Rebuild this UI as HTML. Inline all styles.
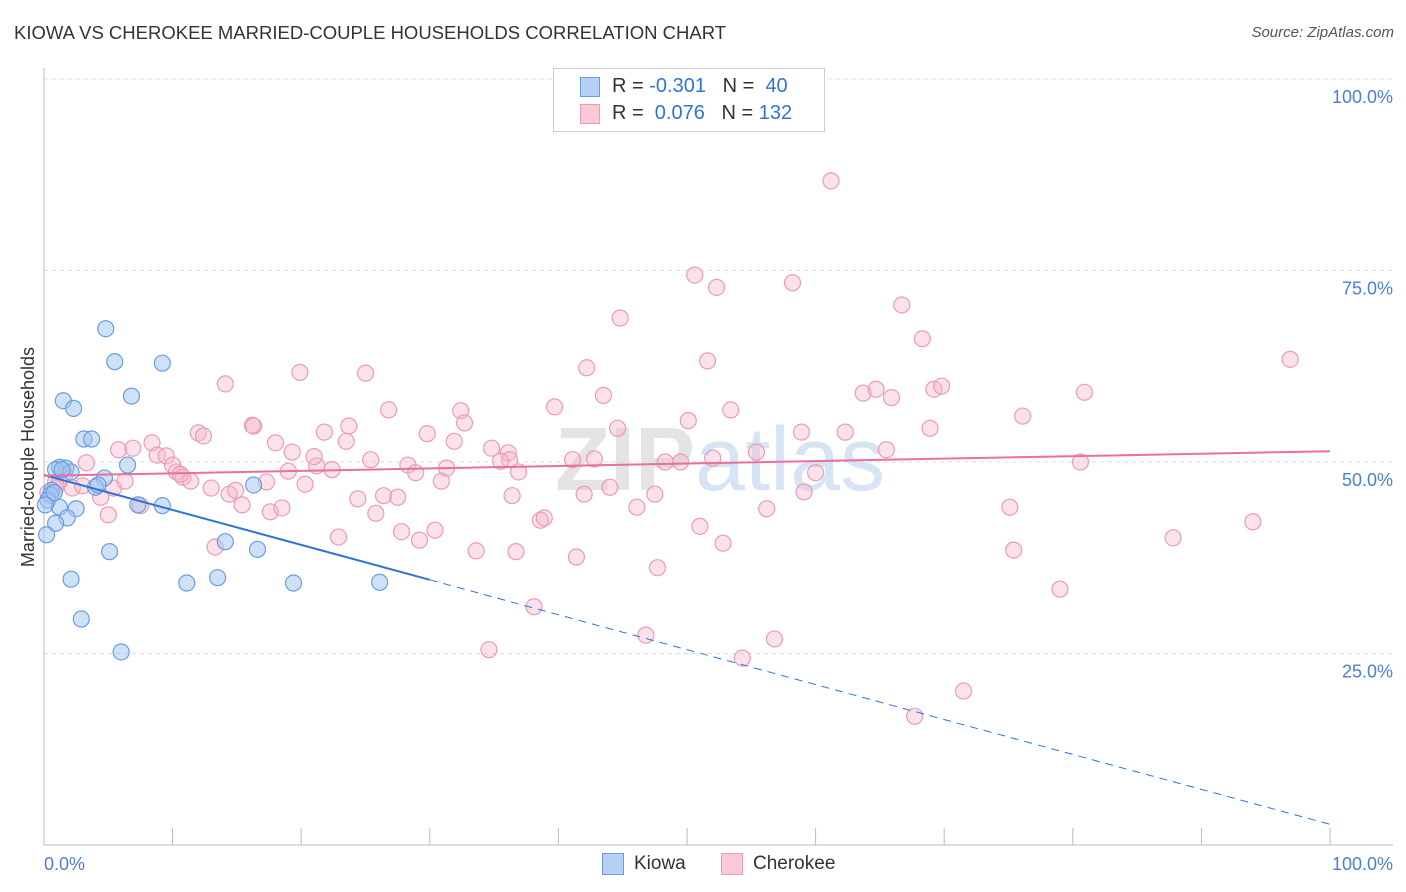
<!DOCTYPE html>
<html><head><meta charset="utf-8">
<style>
body{margin:0;background:#fff;font-family:"Liberation Sans",sans-serif;}
#wrap{position:relative;width:1406px;height:892px;overflow:hidden;}
.t{position:absolute;white-space:nowrap;}
</style></head>
<body>
<div id="wrap">
<div class="t" style="left:14px;top:22px;font-size:18.5px;color:#333;">KIOWA VS CHEROKEE MARRIED-COUPLE HOUSEHOLDS CORRELATION CHART</div>
<div class="t" style="right:12px;top:24px;font-size:15px;color:#555;font-style:italic;">Source: ZipAtlas.com</div>
<svg id="plot" width="1406" height="892" style="position:absolute;left:0;top:0"></svg>
</div>
<script>
const kiowaX=[4.8,5.5,9.2,6.8,1.5,2.3,3.1,3.7,1.2,1.7,2.1,0.9,6.5,4.7,4.0,0.6,0.5,0.3,1.2,2.5,7.3,9.2,1.8,0.9,0.2,16.3,14.1,16.6,5.1,2.1,11.1,13.5,19.4,26.1,2.9,6.0,0.8,1.4,4.2,0.1];
const kiowaY=[67.4,63.1,62.9,58.6,58.0,57.0,53.0,53.0,49.3,49.2,48.7,49.0,49.6,47.9,46.7,46.3,45.7,45.0,44.1,43.9,44.4,44.3,42.7,42.0,40.5,47.0,39.6,38.6,38.3,34.7,34.2,34.9,34.2,34.3,29.5,25.2,46.0,49.0,47.0,44.4];
const cherX=[61.2,50.6,52.3,58.2,44.8,66.7,68.3,51.6,96.9,14.1,19.9,25.0,42.2,26.8,32.4,39.7,43.5,53.4,63.7,64.7,65.9,69.2,69.8,80.9,76.1,16.2,16.3,12.0,12.4,21.8,23.7,32.7,44.6,50.1,55.4,58.9,62.3,68.9,65.5,8.4,6.9,5.8,8.8,9.5,10.3,10.8,11.4,13.0,14.4,14.9,18.0,19.3,23.5,29.8,31.9,34.8,36.1,36.2,35.5,36.9,41.1,42.8,48.3,49.5,52.0,60.0,80.6,3.3,1.6,0.9,2.2,3.0,4.4,5.0,5.4,6.3,7.5,10.0,10.6,15.4,17.3,17.6,18.5,19.0,20.3,21.2,21.0,22.4,25.4,28.3,28.9,31.3,30.9,24.4,25.8,26.4,27.5,27.8,29.2,30.4,22.9,13.3,33.6,36.4,36.7,38.6,38.9,42.0,44.0,46.1,47.5,47.7,51.0,52.8,56.2,59.1,41.4,38.1,46.8,34.6,54.3,56.8,67.7,71.5,79.0,75.4,75.1,87.8,94.0,0.3,0.9,1.2];
const cherY=[86.7,74.4,72.8,73.4,68.8,70.5,66.1,63.2,63.4,60.2,61.7,61.6,62.3,56.8,56.7,57.2,58.7,56.8,59.0,59.5,58.4,59.5,59.9,59.1,56.0,54.8,54.7,53.8,53.4,53.9,54.7,55.1,54.4,55.4,51.3,53.9,53.9,54.4,51.6,52.5,51.8,51.6,50.9,50.8,48.7,48.0,47.5,46.6,45.8,46.3,52.5,51.3,52.7,53.7,52.7,51.8,51.2,50.3,50.1,48.7,50.3,50.4,50.0,50.0,50.5,48.6,50.0,49.9,48.3,47.4,46.6,46.9,45.4,43.1,46.6,47.5,44.3,49.6,48.4,44.4,47.4,43.5,44.0,48.8,47.1,49.5,50.7,49.0,50.3,49.6,48.6,49.2,47.5,45.2,43.3,45.6,45.4,40.9,39.8,41.1,40.2,38.9,38.4,45.6,38.3,42.4,42.7,45.8,46.7,44.1,45.8,36.2,41.6,39.4,43.9,46.1,37.6,31.1,27.4,25.5,24.4,26.9,16.8,20.1,33.4,38.5,44.1,40.1,42.2,46.0,46.6,47.5,46.0];
const kiowaTrend=[48.3,2.7];
const cherTrend=[48.2,51.4];
const yTicks=[25,50,75,100];
const yTickLabels=["25.0%","50.0%","75.0%","100.0%"];

const NS="http://www.w3.org/2000/svg";
const svg=document.getElementById('plot');
const X=v=>44+v*12.86, Y=v=>845-v*7.66;
function mk(tag,at,parent){const e=document.createElementNS(NS,tag);for(const k in at)e.setAttribute(k,at[k]);(parent||svg).appendChild(e);return e;}
let wm=mk('text',{x:555,y:490,'font-size':90,'font-family':'Liberation Sans','font-weight':'bold',fill:'#e4e4e4'});


wm.innerHTML='ZIP<tspan fill="#d6e4f5" font-weight="normal">atlas</tspan>';
yTicks.forEach((t,i)=>{
 const g=mk('line',{x1:44,x2:1393,y1:Y(t),y2:Y(t),stroke:'#dcdcdc','stroke-dasharray':'4,4'});
 
 
 const l=mk('text',{x:1393,y:Y(t)+24,'text-anchor':'end','font-size':18,fill:'#4a7fd4','font-family':'Liberation Sans'});
 
 
 l.textContent=yTickLabels[i];
});
let ax=mk('line',{x1:44,x2:44,y1:68,y2:845,stroke:'#bbb'});


let bx=mk('line',{x1:44,x2:1393,y1:845,y2:845,stroke:'#bbb'});


for(let i=0;i<=10;i++){const tk=mk('line',{x1:X(i*10),x2:X(i*10),y1:828,y2:845,stroke:'#bbb'});
 
 }
[['0.0%',44,'start'],['100.0%',1393,'end']].forEach(a=>{const t=mk('text',{x:a[1],y:870,'text-anchor':a[2],'font-size':18,fill:'#4a7fd4','font-family':'Liberation Sans'});
 
 
 t.textContent=a[0];});
let yt=mk('text',{x:34,y:457,transform:'rotate(-90 34 457)','text-anchor':'middle','font-size':18,fill:'#333','font-family':'Liberation Sans'});


yt.textContent='Married-couple Households';
cherX.forEach((v,i)=>{const c=mk('circle',{cx:X(v),cy:Y(cherY[i]),r:8,fill:'rgba(246,182,203,0.4)',stroke:'#eb9bb5','stroke-width':1.2});
 
 });
kiowaX.forEach((v,i)=>{const c=mk('circle',{cx:X(v),cy:Y(kiowaY[i]),r:8,fill:'rgba(160,196,240,0.5)',stroke:'#6a9de0','stroke-width':1.2});
 
 });
const ky=x=>kiowaTrend[0]+(kiowaTrend[1]-kiowaTrend[0])*x/100;
let k1=mk('line',{x1:X(0),y1:Y(ky(0)),x2:X(30),y2:Y(ky(30)),stroke:'#2f74d8','stroke-width':2});


let k2=mk('line',{x1:X(30),y1:Y(ky(30)),x2:X(100),y2:Y(ky(100)),stroke:'#2f74d8','stroke-width':1,'stroke-dasharray':'8,6'});


let c1=mk('line',{x1:X(0),y1:Y(cherTrend[0]),x2:X(100),y2:Y(cherTrend[1]),stroke:'#e8709a','stroke-width':2});


</script>
<div class="t" style="left:553px;top:68px;width:270px;height:62px;border:1px solid #ccc;background:#fff;font-size:20px;color:#333;">
 <div style="position:absolute;left:26px;top:8px;width:18px;height:18px;background:#b4d0f4;border:1px solid #6a9de0;"></div>
 <div style="position:absolute;left:58px;top:6px;">R = <span style="color:#2f74d8">-0.301</span>&nbsp;&nbsp;&nbsp;N = &nbsp;<span style="color:#2f74d8">40</span></div>
 <div style="position:absolute;left:26px;top:35px;width:18px;height:18px;background:#f9c9d8;border:1px solid #eb9bb5;"></div>
 <div style="position:absolute;left:58px;top:33px;">R = &nbsp;<span style="color:#2f74d8">0.076</span>&nbsp;&nbsp;&nbsp;N = <span style="color:#2f74d8">132</span></div>
</div>
<div class="t" style="left:602px;top:853px;width:20px;height:20px;background:#b4d0f4;border:1px solid #6a9de0;"></div>
<div class="t" style="left:634px;top:853px;font-size:19px;color:#333;">Kiowa</div>
<div class="t" style="left:721px;top:853px;width:20px;height:20px;background:#f9c9d8;border:1px solid #eb9bb5;"></div>
<div class="t" style="left:753px;top:853px;font-size:19px;color:#333;">Cherokee</div>
</body></html>
